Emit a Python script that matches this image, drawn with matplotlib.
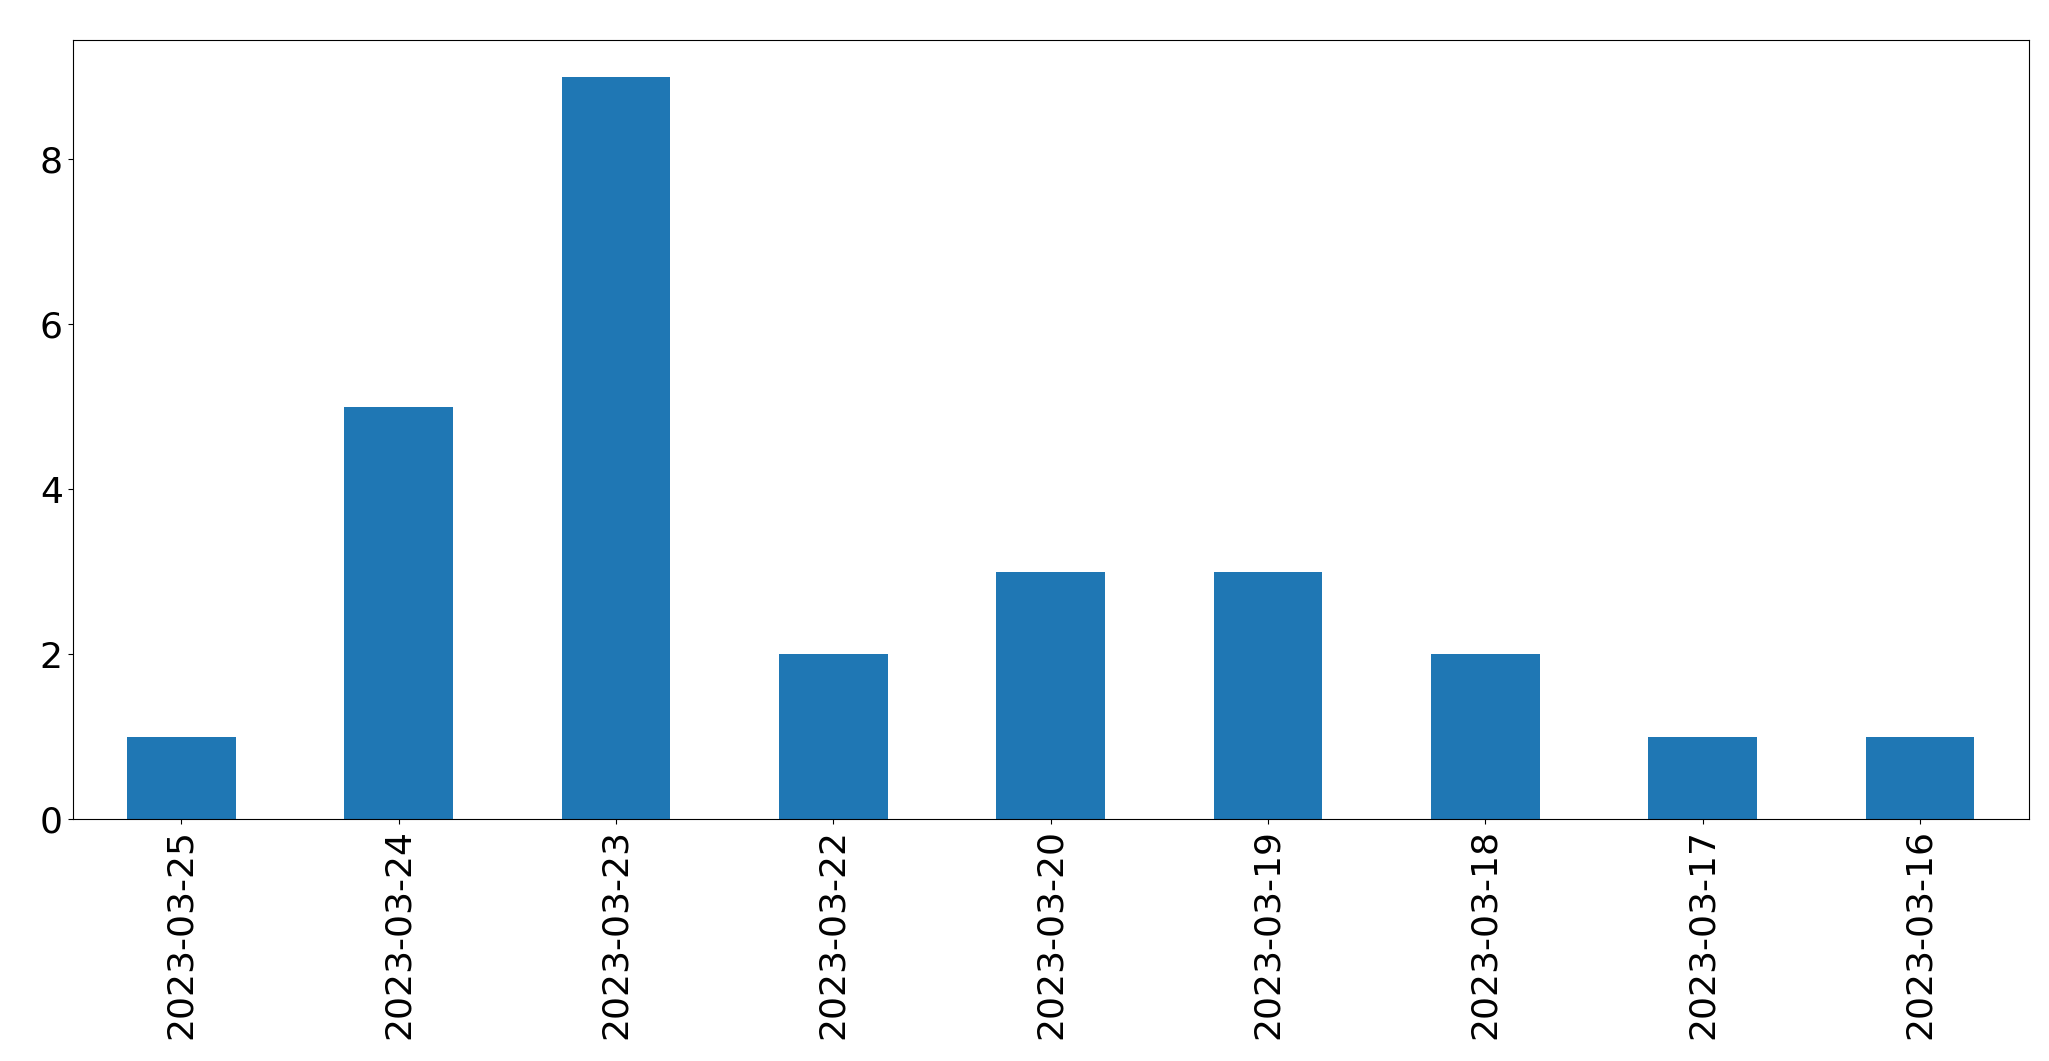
import matplotlib
matplotlib.use('Agg')
import matplotlib.pyplot as plt
import pandas as pd

dates = ['2023-03-25', '2023-03-24', '2023-03-23', '2023-03-22', '2023-03-20',
         '2023-03-19', '2023-03-18', '2023-03-17', '2023-03-16']
counts = [1, 5, 9, 2, 3, 3, 2, 1, 1]

series = pd.Series(counts, index=dates)

fig, ax = plt.subplots(figsize=(20.49, 10.61), dpi=100)
series.plot(kind='bar', ax=ax, color='#1f77b4')
ax.tick_params(axis='both', labelsize=26)
fig.subplots_adjust(left=0.0354, right=0.990, bottom=0.228, top=0.9626)
fig.savefig('out.png', dpi=100)
